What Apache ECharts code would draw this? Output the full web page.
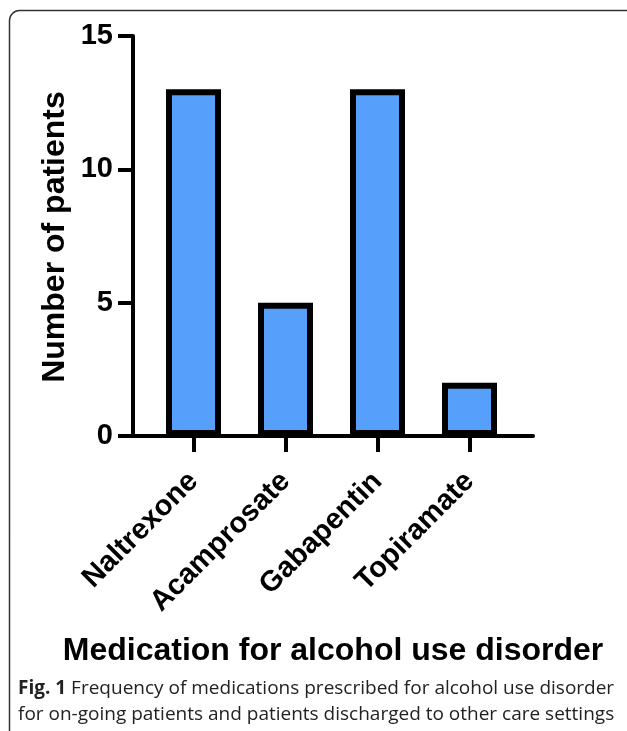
<!DOCTYPE html>
<html>
<head>
<meta charset="utf-8">
<script src="https://cdn.jsdelivr.net/npm/echarts@6/dist/echarts.min.js"></script>
<style>
html,body{margin:0;padding:0;background:#fff;}
#c{width:627px;height:731px;}
</style>
</head>
<body>
<div id="c"></div>
<script>
const categories = ['Naltrexone', 'Acamprosate', 'Gabapentin', 'Topiramate'];
const patients = [13, 5, 13, 2];
const yTicks = [0, 5, 10, 15];
const yTitle = 'Number of patients';
const xTitle = 'Medication for alcohol use disorder';
const captionBold = 'Fig. 1';
const captionLine1 = ' Frequency of medications prescribed for alcohol use disorder';
const captionLine2 = 'for on-going patients and patients discharged to other care settings';

const chart = echarts.init(document.getElementById('c'), null, {renderer: 'canvas'});
const FONT = 'Liberation Sans, Arial, sans-serif';
const option = {
  backgroundColor: '#fff',
  animation: false,
  grid: [
    {left: 133, right: 94, top: 36, bottom: 295},
    {left: 147.5, right: 111.5, top: 36, bottom: 295}
  ],
  xAxis: [
    {gridIndex: 0, type: 'value', min: 0, max: 1,
     axisLine: {show: true, onZero: false, lineStyle: {color: '#000', width: 4}},
     axisTick: {show: false}, axisLabel: {show: false}, splitLine: {show: false}},
    {gridIndex: 1, type: 'category', data: categories,
     axisLine: {show: false},
     axisTick: {show: true, alignWithLabel: true, length: 16, lineStyle: {color: '#000', width: 4}},
     axisLabel: {rotate: 45, margin: 41, color: '#000', fontFamily: FONT, fontWeight: 'bold', fontSize: 29},
     splitLine: {show: false}}
  ],
  yAxis: [
    {gridIndex: 0, type: 'value', min: yTicks[0], max: yTicks[yTicks.length - 1], interval: 5,
     axisLine: {show: true, lineStyle: {color: '#000', width: 4}},
     axisTick: {show: true, length: 15, lineStyle: {color: '#000', width: 4}},
     axisLabel: {margin: 20, color: '#000', fontFamily: FONT, fontWeight: 'bold', fontSize: 29},
     splitLine: {show: false}},
    {gridIndex: 1, type: 'value', min: yTicks[0], max: yTicks[yTicks.length - 1], interval: 5, show: false}
  ],
  series: [{
    type: 'bar', xAxisIndex: 1, yAxisIndex: 1,
    data: patients, barWidth: 55,
    itemStyle: {color: '#569ffa', borderColor: '#000', borderWidth: 6},
    z: 1
  }],
  graphic: [
    {type: 'rect', shape: {x: 9.5, y: 10.5, width: 660, height: 740, r: 10},
     style: {fill: 'none', stroke: '#333', lineWidth: 1.5}, z: 0},
    {type: 'text', x: 55, y: 237, rotation: Math.PI / 2,
     style: {text: yTitle, fontFamily: FONT, fontWeight: 'bold', fontSize: 32, fill: '#000', align: 'center', verticalAlign: 'middle'}},
    {type: 'text', x: 333, y: 651,
     style: {text: xTitle, fontFamily: FONT, fontWeight: 'bold', fontSize: 32, fill: '#000', align: 'center', verticalAlign: 'middle'}},
    {type: 'text', x: 18, y: 689,
     style: {text: '{b|' + captionBold + '}{r|' + captionLine1 + '}', verticalAlign: 'middle',
       rich: {b: {fontFamily: 'Open Sans, sans-serif', fontWeight: 'bold', fontSize: 19, fill: '#222'},
              r: {fontFamily: 'Open Sans, sans-serif', fontSize: 19, fill: '#222'}}}},
    {type: 'text', x: 18, y: 715,
     style: {text: captionLine2, fontFamily: 'Open Sans, sans-serif', fontSize: 19, fill: '#222', verticalAlign: 'middle'}}
  ]
};
chart.setOption(option);
</script>
</body>
</html>
